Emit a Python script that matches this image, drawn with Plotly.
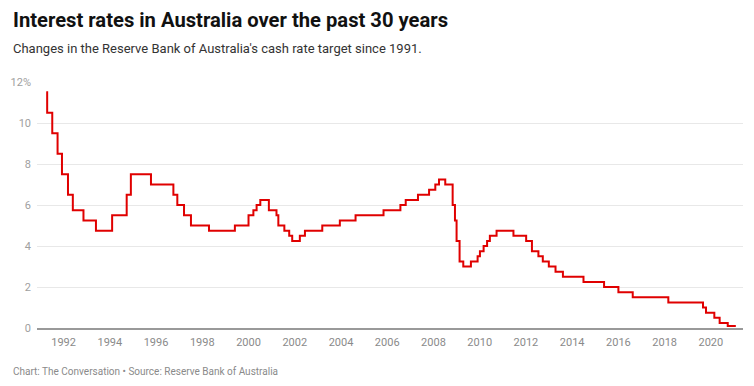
import plotly.graph_objects as go

# Decimal-year dates of each change in the cash-rate target, and the new rate (%)
change_dates = [1991.25, 1991.29, 1991.51, 1991.74, 1991.93, 1992.19, 1992.40, 1992.86, 1993.40,
                1994.10, 1994.73, 1994.91, 1995.78, 1996.75, 1996.92, 1997.21, 1997.51, 1998.29,
                1999.41, 2000.00, 2000.21, 2000.35, 2000.51, 2000.88, 2001.21, 2001.29, 2001.55,
                2001.76, 2001.89, 2002.22, 2002.44, 2003.19, 2003.95, 2004.63, 2005.84, 2006.57,
                2006.80, 2007.33, 2007.81, 2008.08, 2008.24, 2008.51, 2008.83, 2008.93, 2009.00,
                2009.13, 2009.29, 2009.62, 2009.91, 2010.01, 2010.17, 2010.32, 2010.44, 2010.73,
                2011.46, 2012.01, 2012.26, 2012.54, 2012.73, 2012.99, 2013.28, 2013.60, 2014.49,
                2015.38, 2016.00, 2016.62, 2018.16, 2019.66, 2019.79, 2020.15, 2020.38, 2020.73,
                2021.08]
cash_rate = [11.5, 10.5, 9.5, 8.5, 7.5, 6.5, 5.75, 5.25, 4.75,
             5.5, 6.5, 7.5, 7.0, 6.5, 6.0, 5.5, 5.0, 4.75,
             5.0, 5.5, 5.75, 6.0, 6.25, 5.75, 5.5, 5.0, 4.75,
             4.5, 4.25, 4.5, 4.75, 5.0, 5.25, 5.5, 5.75, 6.0,
             6.25, 6.5, 6.75, 7.0, 7.25, 7.0, 6.0, 5.25, 4.25,
             3.25, 3.0, 3.25, 3.5, 3.75, 4.0, 4.25, 4.5, 4.75,
             4.5, 4.25, 3.75, 3.5, 3.25, 3.0, 2.75, 2.5, 2.25,
             2.0, 1.75, 1.5, 1.25, 1.0, 0.75, 0.5, 0.25, 0.1,
             0.1]

x_tick_vals = list(range(1992, 2021, 2))
x_tick_text = [str(v) for v in x_tick_vals]
y_tick_vals = [0, 2, 4, 6, 8, 10, 12]
y_tick_text = ["0", "2", "4", "6", "8", "10", "12%"]

title_text = "Interest rates in Australia over the past 30 years"
subtitle_text = "Changes in the Reserve Bank of Australia's cash rate target since 1991."
footer_text = "Chart: The Conversation • Source: Reserve Bank of Australia"

W, H = 754, 386
ML, MR, MT, MB = 35, 11, 82, 58
PW, PH = W - ML - MR, H - MT - MB


def px_x(px):
    return (px - ML) / PW


def px_y(py):
    return (H - MB - py) / PH


fig = go.Figure()
fig.add_trace(go.Scatter(
    x=change_dates, y=cash_rate, mode="lines",
    line=dict(color="#e00000", width=2, shape="hv"),
    hoverinfo="skip", showlegend=False,
))

fig.update_layout(
    width=W, height=H,
    margin=dict(l=ML, r=MR, t=MT, b=MB, pad=0),
    paper_bgcolor="white", plot_bgcolor="white",
    font=dict(family="Roboto", size=11, color="#888888"),
    xaxis=dict(
        range=[1990.85, 2021.39],
        tickvals=x_tick_vals, ticktext=x_tick_text,
        showgrid=False, zeroline=False,
        showline=True, linecolor="#999999", linewidth=1.5,
        ticks="", tickfont=dict(size=11, color="#8a8a8a"),
        ticklabelstandoff=3,
        fixedrange=True,
    ),
    yaxis=dict(
        range=[0, 12],
        tickvals=y_tick_vals, ticktext=y_tick_text,
        showgrid=True, gridcolor="#e8e8e8", gridwidth=1,
        zeroline=False, showline=False,
        ticks="", tickfont=dict(size=11, color="#a0a0a0"),
        ticklabelstandoff=5,
        fixedrange=True,
    ),
    annotations=[
        dict(text="<b>" + title_text + "</b>", xref="paper", yref="paper",
             x=px_x(9), y=px_y(20), xanchor="left", yanchor="middle",
             showarrow=False, font=dict(family="Roboto", size=20.2, color="#111111")),
        dict(text=subtitle_text, xref="paper", yref="paper",
             x=px_x(9), y=px_y(48), xanchor="left", yanchor="middle",
             showarrow=False, font=dict(family="Roboto", size=13, color="#333333")),
        dict(text=footer_text, xref="paper", yref="paper",
             x=px_x(9), y=px_y(371), xanchor="left", yanchor="middle",
             showarrow=False, font=dict(family="Roboto", size=10, color="#8a8a8a")),
    ],
)

fig.write_html("out.html", config={"displayModeBar": False},
               post_script="document.body.style.margin='0';")
